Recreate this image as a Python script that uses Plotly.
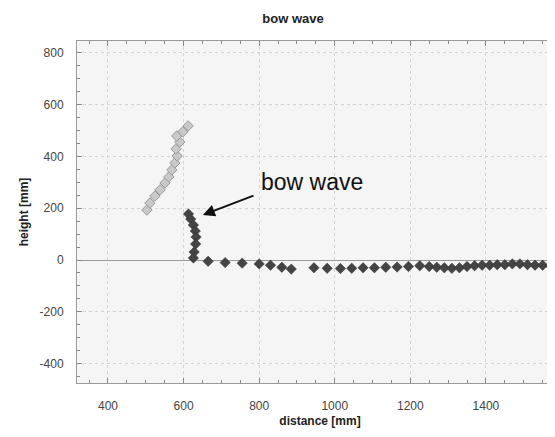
import plotly.graph_objects as go

# light (upper) branch
light_x = [503, 511, 524, 538, 551, 561, 569, 577, 583, 580, 590, 582, 598, 612]
light_y = [193, 220, 247, 271, 298, 321, 348, 375, 402, 429, 456, 479, 495, 518]

# dark branch: column then surface line
dark_x = [613, 619, 626, 631, 633, 632, 628, 626,
          665, 710, 755, 800, 830, 860, 885,
          945, 980, 1015, 1045, 1075, 1105, 1135, 1165, 1195, 1225, 1250, 1270,
          1290, 1310, 1330, 1350, 1370, 1390, 1410, 1430, 1450, 1470, 1490,
          1510, 1530, 1550, 1570, 1590]
dark_y = [178, 158, 135, 112, 89, 62, 31, 8,
          -5, -10, -12, -15, -20, -28, -35,
          -30, -32, -33, -32, -30, -30, -28, -27, -25, -22, -25, -28,
          -30, -32, -30, -25, -22, -20, -20, -18, -18, -15, -15,
          -18, -20, -20, -22, -22]

x_ticks = [400, 600, 800, 1000, 1200, 1400, 1600]
x_ticktext = ["400", "600", "800", "1000", "1200", "1400", "1600"]
y_ticks = [-400, -200, 0, 200, 400, 600, 800]
y_ticktext = ["-400", "-200", "0", "200", "400", "600", "800"]

x_range = [318, 1604]
y_range = [-475, 846]

FONT = "Liberation Sans, Arial"

fig = go.Figure()
fig.add_trace(go.Scatter(x=light_x, y=light_y, mode="markers",
                         marker=dict(symbol="diamond", size=8, color="#c9c9c9",
                                     line=dict(color="#9a9a9a", width=1)),
                         showlegend=False))
fig.add_trace(go.Scatter(x=dark_x, y=dark_y, mode="markers",
                         marker=dict(symbol="diamond", size=8, color="#444444",
                                     line=dict(color="#333333", width=0.5)),
                         showlegend=False))

fig.add_annotation(x=651, y=174, ax=789, ay=251, axref="x", ayref="y",
                   xref="x", yref="y", text="", showarrow=True,
                   arrowhead=2, arrowsize=1.2, arrowwidth=2, arrowcolor="#111")
fig.add_annotation(x=800, y=301, xref="x", yref="y", text="bow wave",
                   showarrow=False, xanchor="left",
                   font=dict(size=23, color="#111", family=FONT))

axis_common = dict(showline=True, linecolor="#999999", linewidth=1, mirror="ticks",
                   ticks="inside", ticklen=5, tickcolor="#888888",
                   showgrid=True, gridcolor="#d4d4d4", griddash="dot", gridwidth=1,
                   tickfont=dict(size=12, color="#444", family=FONT),
                   zeroline=False)

fig.update_xaxes(range=x_range, tickmode="array", tickvals=x_ticks, ticktext=x_ticktext,
                 ticklabelstandoff=12,
                 minor=dict(dtick=50, tick0=0, ticks="inside", ticklen=3, tickcolor="#888888",
                            showgrid=False),
                 title=dict(text="<b>distance [mm]</b>", standoff=4,
                            font=dict(size=12, color="#222", family=FONT)),
                 **axis_common)
fig.update_yaxes(range=y_range, tickmode="array", tickvals=y_ticks, ticktext=y_ticktext,
                 ticklabelstandoff=10,
                 minor=dict(dtick=50, tick0=0, ticks="inside", ticklen=3, tickcolor="#888888",
                            showgrid=False),
                 title=dict(text="<b>height [mm]</b>", standoff=8,
                            font=dict(size=12, color="#222", family=FONT)),
                 **axis_common)
fig.update_yaxes(zeroline=True, zerolinecolor="#999999", zerolinewidth=1)

fig.update_layout(
    width=555, height=437,
    margin=dict(l=69, r=0, t=33, b=62),
    plot_bgcolor="#f5f5f5", paper_bgcolor="white",
    title=dict(text="<b>bow wave</b>", x=285 / 555, xanchor="center",
               y=1 - 10 / 437, yanchor="middle",
               font=dict(size=13, color="#222", family=FONT)),
)

fig.write_html("out.html")
